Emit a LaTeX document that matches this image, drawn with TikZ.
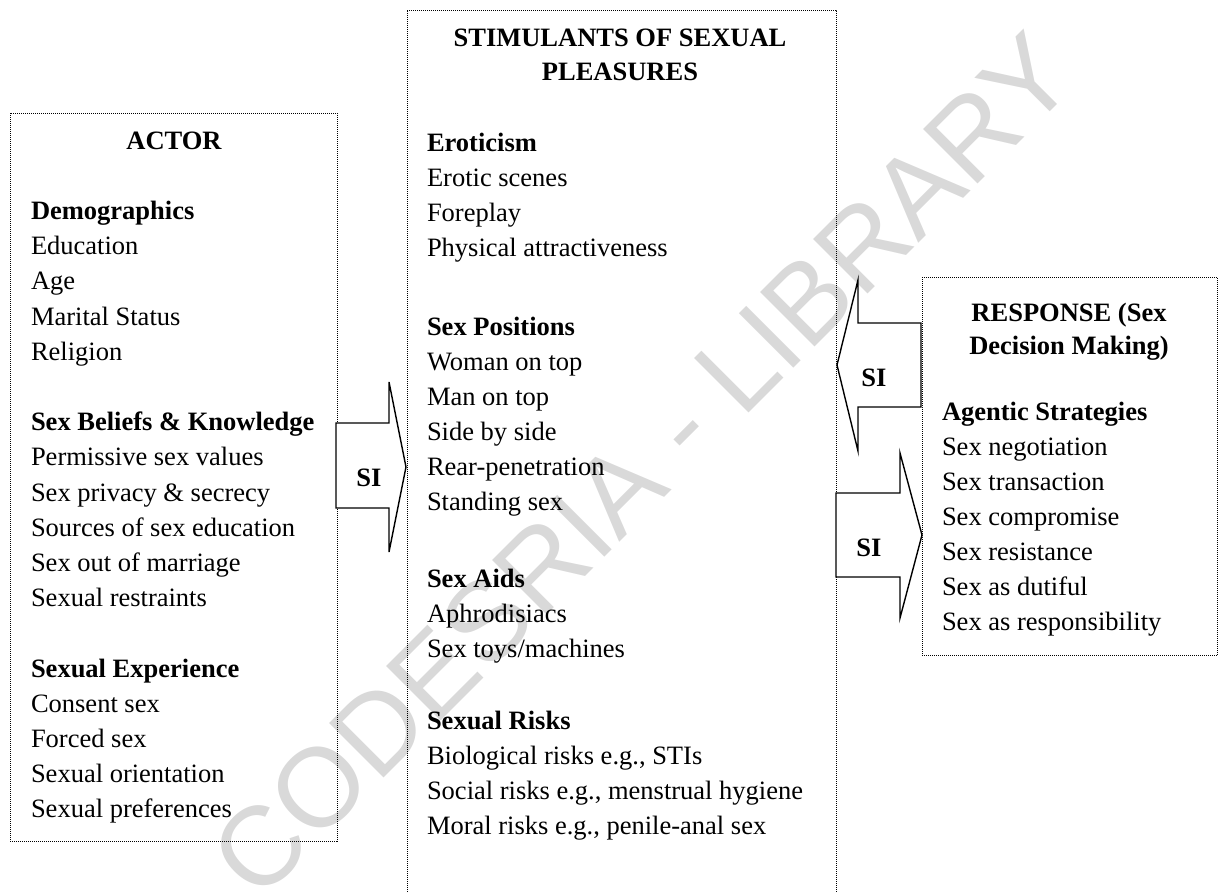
\documentclass[tikz,border=0pt]{standalone}
\usepackage{fontspec}
\setmainfont{Liberation Serif}
\newfontfamily\wmfont{Liberation Sans}
\definecolor{wmgray}{RGB}{217,217,217}
\begin{document}
\begin{tikzpicture}[x=1pt,y=-1pt,
  every node/.style={inner sep=0pt, outer sep=0pt},
  body/.style={anchor=base west, font=\fontsize{26.5}{31}\selectfont},
  head/.style={anchor=base west, font=\fontsize{26.5}{31}\selectfont\bfseries},
  ttl/.style={anchor=base, font=\fontsize{26.5}{31}\selectfont\bfseries},
  panel/.style={draw, line width=1pt, dash pattern=on 1pt off 1pt},
  bigarrow/.style={draw, line width=1.4pt, fill=white, line join=miter},
  wm/.style={rotate=45, text=wmgray, font=\wmfont\fontsize{112}{112}\selectfont}
]
\useasboundingbox (0,0) rectangle (1218,892);

% watermark
\node[wm] (wmark) at (642,465) {CODESRIA - LIBRARY};

% panels
\coordinate (Atl) at (10,113);
\coordinate (Abr) at (337,841);
\draw[panel] (Atl) rectangle (Abr);
\coordinate (Mtl) at (407,10);
\coordinate (Mtr) at (836,10);
\draw[panel] (407,900) -- (Mtl) -- (Mtr) -- (836,900);
\coordinate (Rtl) at (922,277);
\coordinate (Rbr) at (1217.5,655);
\draw[panel] (Rtl) rectangle (Rbr);

% ACTOR column
\node[ttl] (actor) at (174,149) {ACTOR};
\node[head] (a2) at (31,{149+35.2*2}) {Demographics};
\node[body] (a3) at (31,{149+35.2*3}) {Education};
\node[body] (a4) at (31,{149+35.2*4}) {Age};
\node[body] (a5) at (31,{149+35.2*5}) {Marital Status};
\node[body] (a6) at (31,{149+35.2*6}) {Religion};
\node[head] (a8) at (31,{149+35.2*8}) {Sex Beliefs \& Knowledge};
\node[body] (a9) at (31,{149+35.2*9}) {Permissive sex values};
\node[body] (a10) at (31,{149+35.2*10}) {Sex privacy \& secrecy};
\node[body] (a11) at (31,{149+35.2*11}) {Sources of sex education};
\node[body] (a12) at (31,{149+35.2*12}) {Sex out of marriage};
\node[body] (a13) at (31,{149+35.2*13}) {Sexual restraints};
\node[head] (a15) at (31,{149+35.2*15}) {Sexual Experience};
\node[body] (a16) at (31,{149+35.2*16}) {Consent sex};
\node[body] (a17) at (31,{149+35.2*17}) {Forced sex};
\node[body] (a18) at (31,{149+35.2*18}) {Sexual orientation};
\node[body] (a19) at (31,{149+35.2*19}) {Sexual preferences};

% STIMULANTS column
\node[ttl] (stim1) at (620,46) {STIMULANTS OF SEXUAL};
\node[ttl] (stim2) at (620,80) {PLEASURES};
\node[head] (m1) at (427,151) {Eroticism};
\node[body] (m2) at (427,186) {Erotic scenes};
\node[body] (m3) at (427,221) {Foreplay};
\node[body] (m4) at (427,256) {Physical attractiveness};
\node[head] (m5) at (427,335) {Sex Positions};
\node[body] (m6) at (427,370) {Woman on top};
\node[body] (m7) at (427,405) {Man on top};
\node[body] (m8) at (427,440) {Side by side};
\node[body] (m9) at (427,475) {Rear-penetration};
\node[body] (m10) at (427,510) {Standing sex};
\node[head] (m11) at (427,587) {Sex Aids};
\node[body] (m12) at (427,622) {Aphrodisiacs};
\node[body] (m13) at (427,657) {Sex toys/machines};
\node[head] (m14) at (427,729) {Sexual Risks};
\node[body] (m15) at (427,764) {Biological risks e.g., STIs};
\node[body] (m16) at (427,799) {Social risks e.g., menstrual hygiene};
\node[body] (m17) at (427,834) {Moral risks e.g., penile-anal sex};

% RESPONSE column
\node[ttl] (resp1) at (1069,321) {RESPONSE (Sex};
\node[ttl] (resp2) at (1069,354) {Decision Making)};
\node[head] (r1) at (942,420) {Agentic Strategies};
\node[body] (r2) at (942,455) {Sex negotiation};
\node[body] (r3) at (942,490) {Sex transaction};
\node[body] (r4) at (942,525) {Sex compromise};
\node[body] (r5) at (942,560) {Sex resistance};
\node[body] (r6) at (942,595) {Sex as dutiful};
\node[body] (r7) at (942,630) {Sex as responsibility};

% block arrows
\draw[bigarrow] (336,423) -- (389,423) -- (389,382) -- (406,467) -- (389,552) -- (389,508) -- (336,508) -- cycle;
\node[ttl] (si1) at (369,486) {SI};
\draw[bigarrow] (921,323) -- (858,323) -- (858,280) -- (837,365) -- (858,451) -- (858,407) -- (921,407) -- cycle;
\node[ttl] (si2) at (874,386) {SI};
\draw[bigarrow] (836,493) -- (900,493) -- (900,453) -- (922,535) -- (900,618) -- (900,577) -- (836,577) -- cycle;
\node[ttl] (si3) at (869,556) {SI};
\end{tikzpicture}
\end{document}
